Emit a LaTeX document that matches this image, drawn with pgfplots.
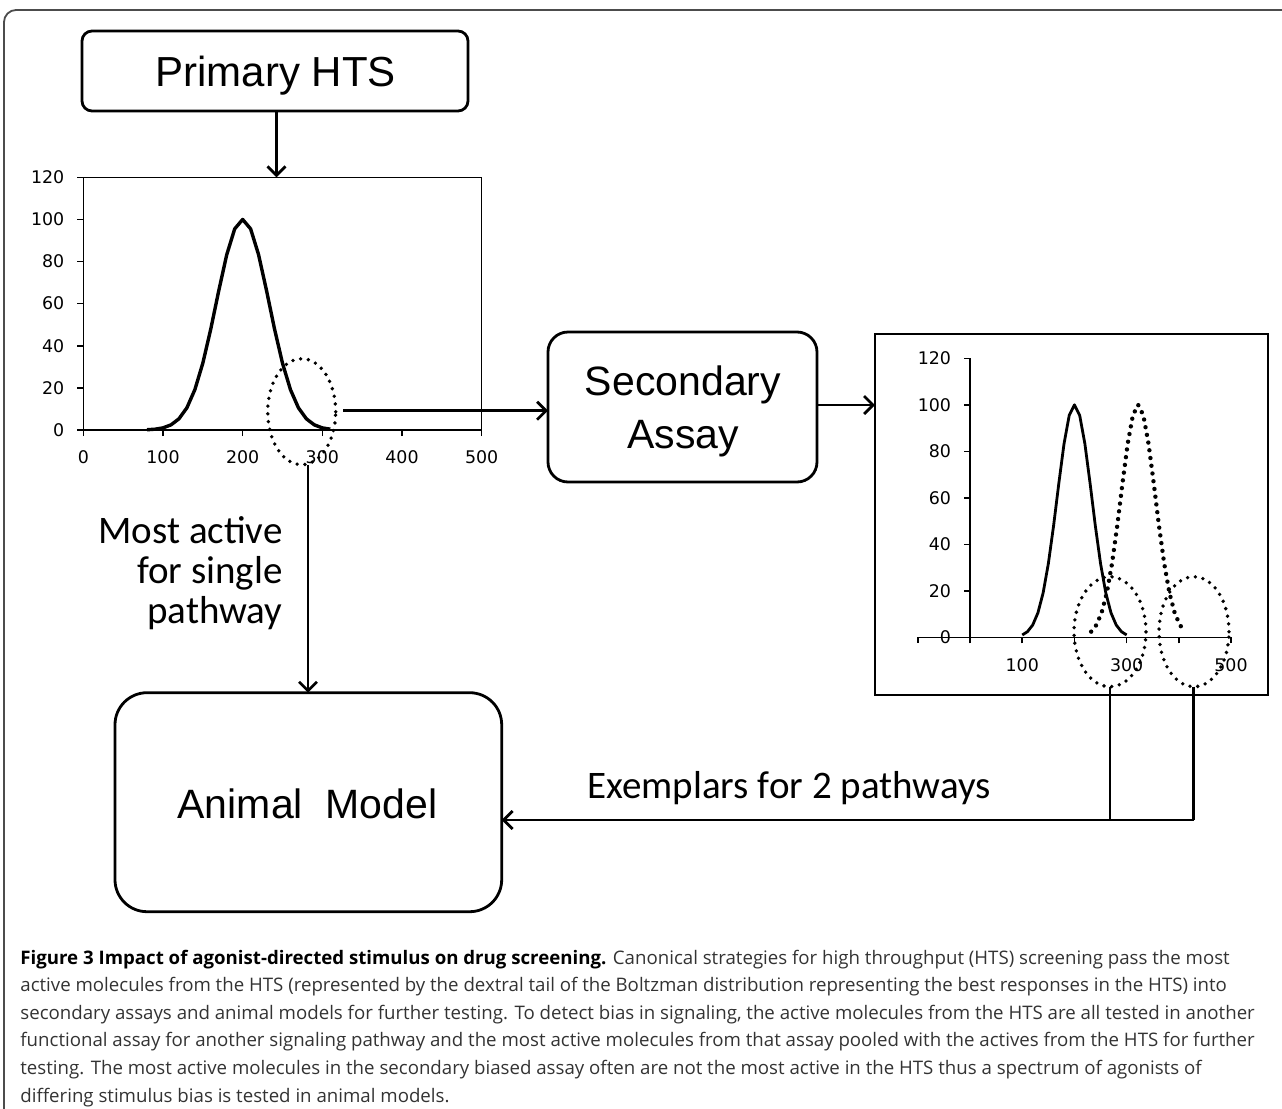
\documentclass[border=0pt]{standalone}
\usepackage{fontspec}
\usepackage{pgfplots}
\usepackage{pgfplotstable}
\pgfplotsset{compat=1.18}
\usetikzlibrary{arrows.meta}
\setmainfont{Liberation Sans}
\newfontfamily\boxfont{Liberation Sans}
\newfontfamily\calfont{Carlito}
\newfontfamily\capfont{Open Sans}
\newfontfamily\tickfont{DejaVu Sans}

\pgfplotstableread{
x y
80 0.13
90 0.39
100 1.01
110 2.43
120 5.30
130 10.54
140 19.15
150 31.73
160 47.97
170 66.15
180 83.22
190 95.51
200 100
210 95.51
220 83.22
230 66.15
240 47.97
250 31.73
260 19.15
270 10.54
280 5.30
290 2.43
300 1.01
310 0.39
}\hts

\pgfplotstableread{
x y
100 1.01
110 2.43
120 5.30
130 10.54
140 19.15
150 31.73
160 47.97
170 66.15
180 83.22
190 95.51
200 100
210 95.51
220 83.22
230 66.15
240 47.97
250 31.73
260 19.15
270 10.54
280 5.30
290 2.43
300 1.01
}\primary

\pgfplotstableread{
x y
232 2.43
242 5.30
252 10.54
262 19.15
272 31.73
282 47.97
292 66.15
302 83.22
312 95.51
322 100
332 95.51
342 83.22
352 66.15
362 47.97
372 31.73
382 19.15
392 10.54
402 5.30
412 2.43
}\secondary

\tikzset{
  arr/.style={line width=1.35pt, -{Straight Barb[length=4.5pt,width=9pt]}},
  dots/.style={line width=1.9pt, line cap=round, dash pattern=on 0pt off 3.9pt},
}

\begin{document}
\begin{tikzpicture}
\path[use as bounding box] (0pt,0pt) rectangle (641pt,-554.5pt);

% left plot
\begin{axis}[
  at={(41.65pt,-215pt)}, anchor=south west,
  scale only axis, width=199.2pt, height=126.35pt,
  xmin=0, xmax=500, ymin=0, ymax=120,
  xtick={0,100,...,500}, ytick={0,20,...,120},
  tick pos=left, tick align=outside, major tick length=3pt,
  axis line style={line width=0.8pt, black},
  tick style={black, line width=0.8pt},
  /pgf/number format/assume math mode=true,
  ticklabel style={font=\tickfont\fontsize{8.7pt}{10pt}\selectfont},
  xticklabel style={yshift=-4pt},
  yticklabel style={xshift=-3pt},
  clip=false,
]
\addplot[black, line width=1.7pt, line join=round, mark=none] table {\hts};
\end{axis}

% right plot
\begin{axis}[
  at={(485.05pt,-318.65pt)}, anchor=south west,
  scale only axis, width=130.45pt, height=139.5pt,
  xmin=0, xmax=500, ymin=0, ymax=120,
  axis lines=left,
  axis line style={-, line width=0.8pt, black},
  xtick={0,100,...,500}, xticklabels={{},100,{},300,{},500},
  ytick={0,20,...,120},
  tick align=outside, major tick length=3pt,
  tick style={black, line width=0.8pt},
  /pgf/number format/assume math mode=true,
  ticklabel style={font=\tickfont\fontsize{8.7pt}{10pt}\selectfont},
  xticklabel style={yshift=-4pt},
  yticklabel style={xshift=-3pt},
  clip=false,
]
\draw[line width=0.8pt] (axis cs:-100,0) -- (axis cs:0,0);
\draw[line width=0.8pt] (axis cs:-100,0) -- ++(0pt,-3pt);
\addplot[black, line width=1.4pt, line join=round, mark=none] table {\primary};
\addplot[black, line width=2.2pt, line cap=round, dash pattern=on 0pt off 3.9pt, mark=none] table {\secondary};
\end{axis}

\begin{scope}[x=0.5pt,y=-0.5pt]
  % outer frame
  \begin{scope}
    \clip (0,0) rectangle (1282,1109);
    \draw[black!70, line width=0.9pt, rounded corners=6pt] (4,10) rectangle (1320,1140);
  \end{scope}

  % Primary HTS box
  \draw[line width=1.4pt, rounded corners=5pt] (82,31) rectangle (468,111);
  \node[anchor=base, inner sep=0pt, font=\boxfont\fontsize{21pt}{25pt}\selectfont] at (275.7,86.7) {Primary HTS};
  \draw[arr] (276.5,111) -- (276.5,177.3);

  % Secondary Assay box
  \draw[line width=1.4pt, rounded corners=10pt] (548,332) rectangle (817,482);
  \node[anchor=base, inner sep=0pt, font=\boxfont\fontsize{20.5pt}{25pt}\selectfont] at (683,395) {Secondary};
  \node[anchor=base, inner sep=0pt, font=\boxfont\fontsize{20.5pt}{25pt}\selectfont] at (683,448) {Assay};

  % right plot frame
  \draw[line width=1pt] (875,334.3) rectangle (1268,695);

  % Animal Model box
  \draw[line width=1.4pt, rounded corners=16pt] (115,692.7) rectangle (501.7,911.7);
  \node[anchor=base, inner sep=0pt, font=\boxfont\fontsize{20.5pt}{25pt}\selectfont] at (307.5,818.3) {Animal\ \ Model};

  % ellipses
  \draw[dots] (301.7,411.7) ellipse [x radius=17pt, y radius=26.5pt];
  \draw[dots] (1110,631.7) ellipse [x radius=18pt, y radius=27.5pt];
  \draw[dots] (1194,631.7) ellipse [x radius=17.5pt, y radius=27.5pt];

  % connectors
  \draw[arr] (343.3,410.7) -- (548,410.7);
  \draw[arr] (308,465) -- (308,692.7);
  \draw[arr] (817,405) -- (875,405);
  \draw[line width=1.35pt] (1110,686.7) -- (1110,820);
  \draw[line width=1.35pt] (1193.5,686.7) -- (1193.5,820);
  \draw[arr] (1194.2,820) -- (501.7,820);

  % side texts
  \begin{scope}[every node/.style={anchor=base east, inner sep=0pt, font=\calfont\fontsize{19.5pt}{23pt}\selectfont}]
    \node at (283,543) {Most active};
    \node at (283,583) {for single};
    \node at (283,623) {pathway};
  \end{scope}
  \node[anchor=base west, inner sep=0pt, font=\calfont\fontsize{19.5pt}{23pt}\selectfont] at (587,798.3) {Exemplars for 2 pathways};

  % caption
  \begin{scope}[every node/.style={anchor=base west, inner sep=0pt, text=black!80, font=\capfont\fontsize{9.33pt}{12pt}\selectfont}]
    \node at (20,964) {{\bfseries\color{black}Figure 3 Impact of agonist-directed stimulus on drug screening.} Canonical strategies for high throughput (HTS) screening pass the most};
    \node at (20,991.6) {active molecules from the HTS (represented by the dextral tail of the Boltzman distribution representing the best responses in the HTS) into};
    \node at (20,1019.2) {secondary assays and animal models for further testing. To detect bias in signaling, the active molecules from the HTS are all tested in another};
    \node at (20,1046.8) {functional assay for another signaling pathway and the most active molecules from that assay pooled with the actives from the HTS for further};
    \node at (20,1074.4) {testing. The most active molecules in the secondary biased assay often are not the most active in the HTS thus a spectrum of agonists of};
    \node at (20,1102) {differing stimulus bias is tested in animal models.};
  \end{scope}
\end{scope}
\end{tikzpicture}
\end{document}
